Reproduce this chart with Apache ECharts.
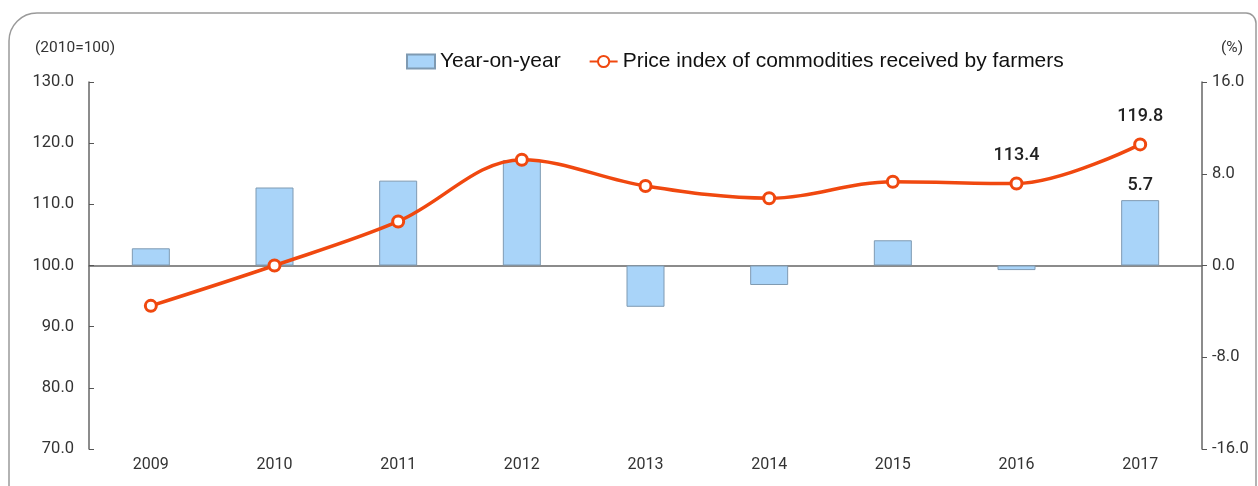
<!DOCTYPE html>
<html>
<head>
<meta charset="utf-8">
<script src="https://cdn.jsdelivr.net/npm/echarts@6/dist/echarts.min.js"></script>
<style>
  html, body { margin: 0; padding: 0; background: #fff; }
  #chart { width: 1258px; height: 486px; }
</style>
</head>
<body>
<div id="chart"></div>
<script>
// 数据
var years = ['2009', '2010', '2011', '2012', '2013', '2014', '2015', '2016', '2017'];
var yoy = [1.5, 6.8, 7.4, 9.2, -3.6, -1.7, 2.2, -0.4, 5.7];
var priceIndex = [93.4, 100.0, 107.2, 117.3, 113.0, 111.0, 113.7, 113.4, 119.8];
var leftTicks = [70, 130, 10];
var rightTicks = [-16, 16, 8];
var lineLabelYears = ['2016', '2017'];
var barLabelYears = ['2017'];

var numFont = 'Roboto, "DejaVu Sans", sans-serif';

var chart = echarts.init(document.getElementById('chart'));

var option = {
    backgroundColor: '#fff',
    animation: false,
    graphic: [
        {
            type: 'rect',
            shape: { x: 9, y: 13, width: 1247, height: 500, r: [28, 10, 0, 28] },
            style: { fill: 'none', stroke: '#9a9a9a', lineWidth: 1.5 },
            silent: true
        },
        {
            type: 'text',
            left: 35, top: 40,
            style: { text: '(2010=100)', font: '15.5px ' + numFont, fill: '#333' }
        },
        {
            type: 'text',
            left: 1221, top: 40,
            style: { text: '(%)', font: '15.5px ' + numFont, fill: '#333' }
        }
    ],
    legend: {
        top: 46,
        left: 401,
        itemGap: 28,
        itemWidth: 28,
        itemHeight: 14,
        textStyle: { fontFamily: '"Liberation Sans", Arial, sans-serif', fontSize: 21, color: '#111' },
        data: [
            { name: 'Year-on-year', icon: 'rect' },
            { name: 'Price index of commodities received by farmers' }
        ]
    },
    grid: { left: 89, right: 56, top: 82, bottom: 37, containLabel: false },
    xAxis: [
        {
            type: 'category',
            data: years,
            axisLine: { onZero: true, onZeroAxisIndex: 1, lineStyle: { color: '#666', width: 1.5 } },
            axisTick: { inside: true, length: 5, lineStyle: { color: '#555' } },
            axisLabel: { show: false }
        },
        {
            type: 'category',
            data: years,
            position: 'bottom',
            axisLine: { show: false, onZero: false },
            axisTick: { show: false },
            axisLabel: { margin: 8, fontFamily: numFont, fontSize: 16, color: '#333' }
        }
    ],
    yAxis: [
        {
            type: 'value',
            min: leftTicks[0], max: leftTicks[1], interval: leftTicks[2],
            axisLine: { show: true, lineStyle: { color: '#666', width: 1.5 } },
            axisTick: { show: true, inside: true, length: 5, lineStyle: { color: '#555' } },
            splitLine: { show: false },
            axisLabel: {
                margin: 15, fontFamily: numFont, fontSize: 16.5, color: '#333',
                formatter: function (v) { return v.toFixed(1); }
            }
        },
        {
            type: 'value',
            position: 'right',
            min: rightTicks[0], max: rightTicks[1], interval: rightTicks[2],
            axisLine: { show: true, lineStyle: { color: '#666', width: 1.5 } },
            axisTick: { show: true, length: 5, lineStyle: { color: '#555' } },
            splitLine: { show: false },
            axisLabel: {
                margin: 10, fontFamily: numFont, fontSize: 16.5, color: '#333',
                formatter: function (v) { return v.toFixed(1); }
            }
        }
    ],
    series: [
        {
            name: 'Year-on-year',
            type: 'bar',
            xAxisIndex: 0,
            yAxisIndex: 1,
            barWidth: 38,
            itemStyle: { color: '#a9d4f9', borderColor: '#7f9ab2', borderWidth: 1 },
            data: yoy.map(function (v, i) {
                var show = barLabelYears.indexOf(years[i]) >= 0;
                return {
                    value: v,
                    label: {
                        show: show, position: 'top', distance: 6,
                        fontFamily: numFont, fontSize: 18, fontWeight: 500, color: '#222',
                        formatter: function (p) { return p.value.toFixed(1); }
                    }
                };
            })
        },
        {
            name: 'Price index of commodities received by farmers',
            type: 'line',
            xAxisIndex: 0,
            yAxisIndex: 0,
            smooth: 0.35,
            symbol: 'circle',
            symbolSize: 11,
            lineStyle: { color: '#f0480f', width: 3.5 },
            itemStyle: { color: '#fff', borderColor: '#f0480f', borderWidth: 3 },
            z: 5,
            data: priceIndex.map(function (v, i) {
                var show = lineLabelYears.indexOf(years[i]) >= 0;
                return {
                    value: v,
                    label: {
                        show: show, position: 'top', distance: 12,
                        fontFamily: numFont, fontSize: 18, fontWeight: 500, color: '#222',
                        formatter: function (p) { return p.value.toFixed(1); }
                    }
                };
            })
        }
    ]
};

chart.setOption(option);
</script>
</body>
</html>
